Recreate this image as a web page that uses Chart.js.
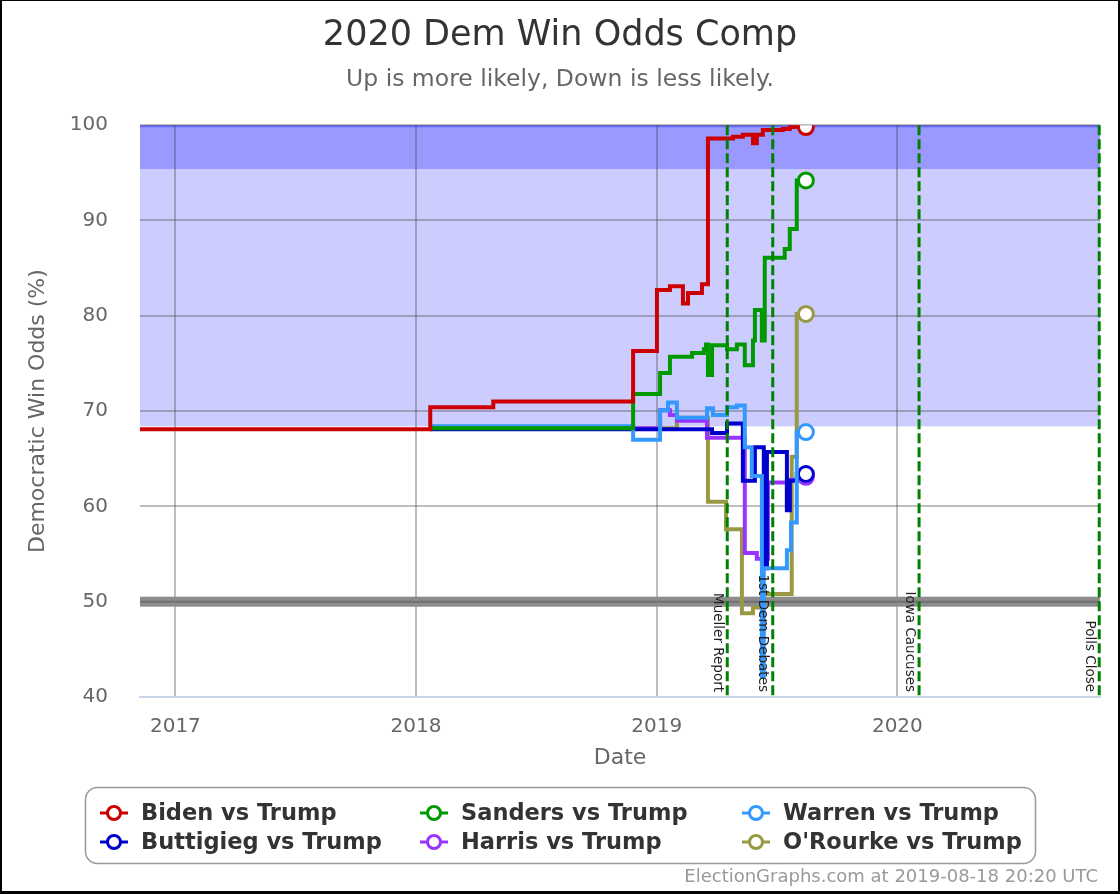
<!DOCTYPE html>
<html>
<head>
<meta charset="utf-8">
<script src="https://cdn.jsdelivr.net/npm/chart.js@4.4.1/dist/chart.umd.min.js"></script>
<style>
  html, body { margin: 0; padding: 0; background: #000; }
  #marco { position: absolute; left: 2px; top: 1px; width: 1116px; height: 890px; background: #fff; }
</style>
</head>
<body>
<div id="marco"><canvas id="grafico"></canvas></div>
<script>
// Datos: [año decimal, probabilidad %]
const biden = [
  [2016.853, 68.1], [2018.059, 70.4], [2018.321, 71.0], [2018.902, 76.3], [2019.001, 82.7],
  [2019.055, 83.1], [2019.109, 81.3], [2019.130, 82.4], [2019.188, 83.3], [2019.213, 98.6],
  [2019.317, 98.8], [2019.358, 99.0], [2019.400, 98.1], [2019.416, 99.0], [2019.441, 99.5],
  [2019.524, 99.6], [2019.553, 99.8], [2019.620, 99.8]
];
const sanders = [
  [2018.059, 68.2], [2018.902, 71.8], [2019.014, 74.0], [2019.055, 75.7], [2019.147, 76.1],
  [2019.196, 76.5], [2019.205, 77.0], [2019.213, 73.8], [2019.230, 76.9], [2019.292, 76.5],
  [2019.333, 77.0], [2019.366, 74.8], [2019.400, 77.4], [2019.408, 80.6], [2019.437, 77.4],
  [2019.449, 86.1], [2019.532, 87.0], [2019.553, 89.1], [2019.582, 94.2], [2019.620, 94.2]
];
const warren = [
  [2018.059, 68.4], [2018.902, 67.0], [2019.014, 70.1], [2019.047, 70.9], [2019.084, 69.3],
  [2019.209, 70.3], [2019.234, 69.6], [2019.292, 70.4], [2019.333, 70.6], [2019.366, 66.2],
  [2019.395, 63.2], [2019.437, 42.2], [2019.445, 53.5], [2019.541, 55.4], [2019.558, 58.3],
  [2019.582, 67.8], [2019.620, 67.8]
];
const buttigieg = [
  [2018.059, 68.1], [2019.230, 67.7], [2019.292, 68.7], [2019.358, 62.7], [2019.408, 66.2],
  [2019.445, 53.5], [2019.458, 65.7], [2019.541, 59.6], [2019.553, 62.7], [2019.582, 63.4],
  [2019.620, 63.4]
];
const harris = [
  [2018.059, 68.2], [2019.014, 70.1], [2019.055, 69.6], [2019.084, 69.0], [2019.209, 67.2],
  [2019.366, 55.1], [2019.416, 54.5], [2019.462, 62.5], [2019.541, 59.8], [2019.553, 62.8],
  [2019.620, 63.1]
];
const orourke = [
  [2018.059, 68.2], [2019.084, 69.3], [2019.213, 60.5], [2019.288, 57.6], [2019.354, 48.8],
  [2019.400, 49.4], [2019.437, 50.8], [2019.561, 65.2], [2019.582, 80.2], [2019.620, 80.2]
];

const nombres = ['Biden vs Trump', 'Sanders vs Trump', 'Warren vs Trump',
                 'Buttigieg vs Trump', 'Harris vs Trump', "O'Rourke vs Trump"];
const series = [biden, sanders, warren, buttigieg, harris, orourke];
const colores = ['#cc0000', '#009900', '#3399ff', '#0000cc', '#9933ff', '#999944'];

const anios = [2017, 2018, 2019, 2020];
const eventos = ['2019-04-18', '2019-06-26', '2020-02-03', '2020-11-03'];
const eventosTexto = ['Mueller Report', '1st Dem Debates', 'Iowa Caucuses', 'Polls Close'];
const bandas = [68.4, 95.4, 100]; // límites de las zonas azules

const FUENTE = "'DejaVu Sans', Verdana, sans-serif";

function aAnio(fecha) {
  const d = new Date(fecha + 'T00:00:00Z');
  const y = d.getUTCFullYear();
  const ini = Date.UTC(y, 0, 1), fin = Date.UTC(y + 1, 0, 1);
  return y + (d.getTime() - ini) / (fin - ini);
}

// Zonas azules de fondo
const bandasPlugin = {
  id: 'bandas',
  beforeDraw(chart) {
    const { ctx, chartArea: a, scales: { y } } = chart;
    const p = v => y.getPixelForValue(v);
    ctx.save();
    ctx.fillStyle = '#ccccff';
    ctx.fillRect(a.left, p(bandas[1]), a.width, p(bandas[0]) - p(bandas[1]));
    ctx.fillStyle = '#9999ff';
    ctx.fillRect(a.left, p(bandas[2]), a.width, p(bandas[1]) - p(bandas[2]));
    ctx.strokeStyle = '#6666ff';
    ctx.lineWidth = 2;
    ctx.beginPath();
    ctx.moveTo(a.left, p(bandas[2]) + 1);
    ctx.lineTo(a.right, p(bandas[2]) + 1);
    ctx.stroke();
    ctx.restore();
  },
  beforeDatasetsDraw(chart) {
    // línea gruesa del 50%
    const { ctx, chartArea: a, scales: { y } } = chart;
    const y50 = y.getPixelForValue(50);
    ctx.save();
    ctx.fillStyle = '#8c8c8c';
    ctx.fillRect(a.left, y50 - 5, a.width, 10);
    ctx.strokeStyle = '#707070';
    ctx.lineWidth = 2;
    ctx.beginPath();
    ctx.moveTo(a.left, y50);
    ctx.lineTo(a.right, y50);
    ctx.stroke();
    ctx.restore();
  }
};

// Líneas verticales de eventos
const eventosPlugin = {
  id: 'eventos',
  afterDatasetsDraw(chart) {
    const { ctx, chartArea: a, scales: { x } } = chart;
    ctx.save();
    eventos.forEach((fecha, i) => {
      const px = x.getPixelForValue(aAnio(fecha));
      ctx.strokeStyle = '#008000';
      ctx.lineWidth = 3;
      ctx.setLineDash([10, 4]);
      ctx.beginPath();
      ctx.moveTo(px, a.top);
      ctx.lineTo(px, a.bottom);
      ctx.stroke();
      ctx.setLineDash([]);
      ctx.save();
      ctx.translate(px - 10, a.bottom - 5);
      ctx.rotate(Math.PI / 2);
      ctx.font = '13.5px ' + FUENTE;
      ctx.fillStyle = '#222';
      ctx.textAlign = 'right';
      ctx.textBaseline = 'middle';
      ctx.fillText(eventosTexto[i], 0, 0);
      ctx.restore();
    });
    ctx.restore();
  }
};

// Leyenda a tres columnas y pie
const leyendaPlugin = {
  id: 'leyenda',
  afterDraw(chart) {
    const ctx = chart.ctx;
    ctx.save();
    ctx.beginPath();
    ctx.roundRect(83.5, 786.5, 950, 76, 12);
    ctx.strokeStyle = '#999';
    ctx.lineWidth = 1.5;
    ctx.stroke();
    const colX = [112, 432, 754];
    const filaY = [812, 841];
    chart.data.datasets.forEach((ds, i) => {
      const cx = colX[i % 3], cy = filaY[Math.floor(i / 3)];
      ctx.strokeStyle = ds.borderColor;
      ctx.lineWidth = 3;
      ctx.beginPath();
      ctx.moveTo(cx - 14, cy);
      ctx.lineTo(cx + 14, cy);
      ctx.stroke();
      ctx.beginPath();
      ctx.arc(cx, cy, 6.5, 0, Math.PI * 2);
      ctx.fillStyle = '#fff';
      ctx.fill();
      ctx.stroke();
      ctx.font = 'bold 22.5px ' + FUENTE;
      ctx.fillStyle = '#333';
      ctx.textAlign = 'left';
      ctx.textBaseline = 'middle';
      ctx.fillText(ds.label, cx + 27, cy + 1);
    });
    ctx.font = '18px ' + FUENTE;
    ctx.fillStyle = '#999';
    ctx.textAlign = 'right';
    ctx.textBaseline = 'middle';
    ctx.fillText('ElectionGraphs.com at 2019-08-18 20:20 UTC', 1096, 876);
    ctx.restore();
  }
};

const grid = { color: 'rgba(70,70,70,0.35)', lineWidth: 2, drawTicks: false };

new Chart(document.getElementById('grafico'), {
  type: 'line',
  data: {
    datasets: series.map((s, i) => ({
      label: nombres[i],
      data: s.map(([x, y]) => ({ x, y })),
      borderColor: colores[i],
      backgroundColor: colores[i],
      borderWidth: 4,
      stepped: true,
      pointRadius: c => c.dataIndex === s.length - 1 ? 7.5 : 0,
      pointBackgroundColor: '#fff',
      pointBorderColor: colores[i],
      pointBorderWidth: 3
    }))
  },
  options: {
    responsive: true,
    maintainAspectRatio: false,
    animation: false,
    events: [],
    layout: { padding: { left: 9, right: 9, top: 0, bottom: 118 } },
    scales: {
      x: {
        type: 'linear',
        min: 2016.853,
        max: 2020.842,
        afterBuildTicks: s => { s.ticks = anios.map(v => ({ value: v })); },
        afterFit: s => { s.height = 76; },
        ticks: { callback: v => String(v), font: { family: FUENTE, size: 20 }, color: '#666', padding: 18 },
        grid: grid,
        border: { display: true, color: '#ccd6eb', width: 2 },
        title: { display: true, text: 'Date', font: { family: FUENTE, size: 22 }, color: '#666', padding: { top: 0, bottom: 2 } }
      },
      y: {
        min: 40,
        max: 100,
        afterFit: s => { s.width = 129; },
        ticks: { stepSize: 10, font: { family: FUENTE, size: 20 }, color: '#666', padding: 32 },
        grid: { ...grid, color: c => c.tick.value === 40 ? 'rgba(0,0,0,0)' : 'rgba(70,70,70,0.35)' },
        border: { display: false },
        title: { display: true, text: 'Democratic Win Odds (%)', font: { family: FUENTE, size: 22 }, color: '#666', padding: { top: 14, bottom: 0 } }
      },
      // eje vacío a la derecha para que el título quede centrado en la imagen
      yDer: {
        position: 'right',
        afterFit: s => { s.width = 9; },
        grid: { display: false },
        ticks: { display: false },
        border: { display: false }
      }
    },
    plugins: {
      legend: { display: false },
      tooltip: { enabled: false },
      title: {
        display: true,
        text: '2020 Dem Win Odds Comp',
        font: { family: FUENTE, size: 35, weight: 'normal' },
        color: '#333',
        padding: { top: 14, bottom: 9 }
      },
      subtitle: {
        display: true,
        text: 'Up is more likely, Down is less likely.',
        font: { family: FUENTE, size: 23.5 },
        color: '#666',
        padding: { top: 0, bottom: 31 }
      }
    }
  },
  plugins: [bandasPlugin, eventosPlugin, leyendaPlugin]
});
</script>
</body>
</html>
